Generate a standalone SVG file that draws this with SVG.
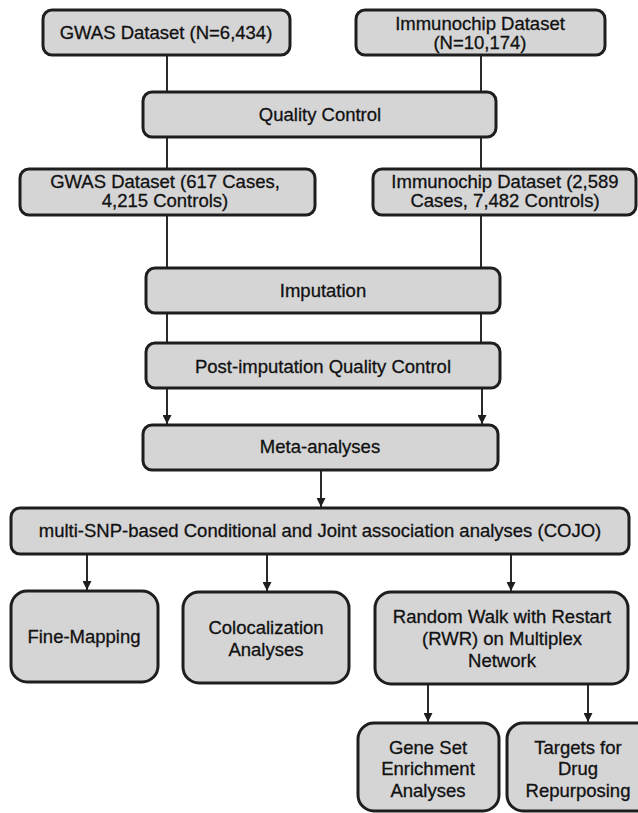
<svg xmlns="http://www.w3.org/2000/svg" width="638" height="813" viewBox="0 0 638 813">
  <defs>
    <style>
      .box { fill: #d5d5d6; stroke: #1e1e1e; stroke-width: 3; }
      .lbl { font-family: "Liberation Sans", Arial, sans-serif; font-size: 18.5px; fill: #111111; stroke: #111111; stroke-width: 0.3px; text-anchor: middle; }
      .conn { stroke: #2a2a2a; stroke-width: 2; fill: none; }
    </style>
    <marker id="arr" viewBox="0 0 10 10" refX="10" refY="5" markerWidth="9" markerHeight="9" markerUnits="userSpaceOnUse" orient="auto">
      <path d="M0,0 L10,5 L0,10 Z" fill="#1e1e1e"/>
    </marker>
  </defs>
  <rect width="638" height="813" fill="#ffffff"/>

  <g id="connectors">
    <line class="conn" x1="167" y1="55" x2="167" y2="92"/>
    <line class="conn" x1="481" y1="55" x2="481" y2="92"/>
    <line class="conn" x1="167" y1="137" x2="167" y2="169"/>
    <line class="conn" x1="481" y1="137" x2="481" y2="169"/>
    <line class="conn" x1="167" y1="215" x2="167" y2="268"/>
    <line class="conn" x1="481" y1="215" x2="481" y2="268"/>
    <line class="conn" x1="167" y1="313" x2="167" y2="343"/>
    <line class="conn" x1="481" y1="313" x2="481" y2="343"/>
    <line class="conn" x1="167" y1="388" x2="167" y2="424" marker-end="url(#arr)"/>
    <line class="conn" x1="482" y1="388" x2="482" y2="424" marker-end="url(#arr)"/>
    <line class="conn" x1="321" y1="470" x2="321" y2="507" marker-end="url(#arr)"/>
    <line class="conn" x1="87" y1="554" x2="87" y2="590" marker-end="url(#arr)"/>
    <line class="conn" x1="267" y1="554" x2="267" y2="591" marker-end="url(#arr)"/>
    <line class="conn" x1="511" y1="554" x2="511" y2="591" marker-end="url(#arr)"/>
    <line class="conn" x1="428" y1="684" x2="428" y2="722" marker-end="url(#arr)"/>
    <line class="conn" x1="588" y1="684" x2="588" y2="722" marker-end="url(#arr)"/>
  </g>

  <g id="gwas1">
    <rect class="box" x="43" y="10" width="247" height="45" rx="9"/>
    <text class="lbl" x="166" y="39">GWAS Dataset (N=6,434)</text>
  </g>
  <g id="immuno1">
    <rect class="box" x="356" y="10" width="249" height="45" rx="9"/>
    <text class="lbl" x="480" y="30">Immunochip Dataset</text>
    <text class="lbl" x="480" y="49">(N=10,174)</text>
  </g>
  <g id="qc">
    <rect class="box" x="143" y="92" width="353" height="45" rx="9"/>
    <text class="lbl" x="320" y="121">Quality Control</text>
  </g>
  <g id="gwas2">
    <rect class="box" x="20" y="169" width="295" height="46" rx="9"/>
    <text class="lbl" x="165" y="188">GWAS Dataset (617 Cases,</text>
    <text class="lbl" x="165" y="207">4,215 Controls)</text>
  </g>
  <g id="immuno2">
    <rect class="box" x="373" y="169" width="263" height="46" rx="9"/>
    <text class="lbl" x="505" y="188">Immunochip Dataset (2,589</text>
    <text class="lbl" x="505" y="207">Cases, 7,482 Controls)</text>
  </g>
  <g id="imputation">
    <rect class="box" x="146" y="268" width="354" height="45" rx="9"/>
    <text class="lbl" x="323" y="297">Imputation</text>
  </g>
  <g id="postimp">
    <rect class="box" x="146" y="343" width="354" height="45" rx="9"/>
    <text class="lbl" x="323" y="373">Post-imputation Quality Control</text>
  </g>
  <g id="meta">
    <rect class="box" x="143" y="425" width="355" height="45" rx="9"/>
    <text class="lbl" x="320" y="453">Meta-analyses</text>
  </g>
  <g id="cojo">
    <rect class="box" x="11" y="508" width="618" height="46" rx="9"/>
    <text class="lbl" x="320" y="537">multi-SNP-based Conditional and Joint association analyses (COJO)</text>
  </g>
  <g id="finemap">
    <rect class="box" x="11" y="591" width="147" height="91" rx="16"/>
    <text class="lbl" x="84" y="643">Fine-Mapping</text>
  </g>
  <g id="coloc">
    <rect class="box" x="183" y="592" width="166" height="91" rx="16"/>
    <text class="lbl" x="266" y="634">Colocalization</text>
    <text class="lbl" x="266" y="656">Analyses</text>
  </g>
  <g id="rwr">
    <rect class="box" x="375" y="592" width="253" height="92" rx="16"/>
    <text class="lbl" x="502" y="623">Random Walk with Restart</text>
    <text class="lbl" x="502" y="645">(RWR) on Multiplex</text>
    <text class="lbl" x="502" y="667">Network</text>
  </g>
  <g id="geneset">
    <rect class="box" x="358" y="723" width="141" height="88" rx="16"/>
    <text class="lbl" x="428" y="754">Gene Set</text>
    <text class="lbl" x="428" y="775">Enrichment</text>
    <text class="lbl" x="428" y="797">Analyses</text>
  </g>
  <g id="targets">
    <rect class="box" x="507" y="723" width="146" height="88" rx="16"/>
    <text class="lbl" x="578" y="754">Targets for</text>
    <text class="lbl" x="578" y="775">Drug</text>
    <text class="lbl" x="578" y="797">Repurposing</text>
  </g>
</svg>
